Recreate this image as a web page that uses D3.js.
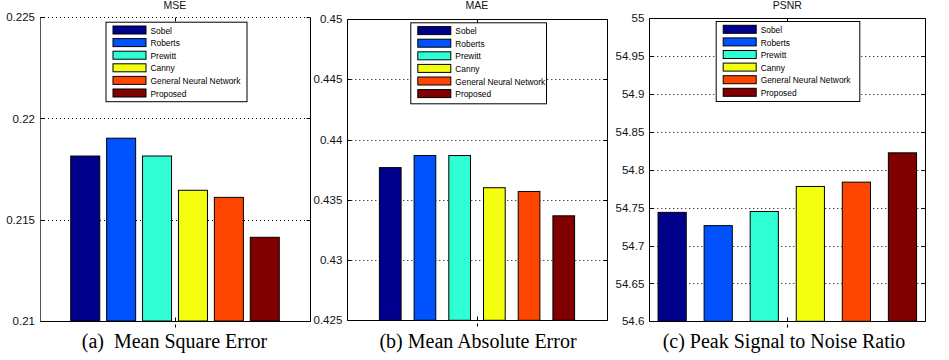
<!DOCTYPE html>
<html>
<head>
<meta charset="utf-8">
<script src="https://cdn.jsdelivr.net/npm/d3@7"></script>
<style>
  html, body { margin: 0; padding: 0; background: #fff; }
  svg { display: block; }
  .caption { white-space: pre; }
</style>
</head>
<body>
<svg id="chart" width="949" height="360"></svg>
<script>
// ---------------- DATA ----------------
const categories = ["Sobel", "Roberts", "Prewitt", "Canny", "General Neural Network", "Proposed"];
const mseValues  = [0.21814, 0.21902, 0.21814, 0.21645, 0.21610, 0.21413];
const maeValues  = [0.43767, 0.43867, 0.43867, 0.43600, 0.43569, 0.43367];
const psnrValues = [54.7438, 54.7263, 54.7450, 54.7780, 54.7837, 54.8224];
const mseTicks  = [0.21, 0.215, 0.22, 0.225];
const maeTicks  = [0.425, 0.43, 0.435, 0.44, 0.445, 0.45];
const psnrTicks = [54.6, 54.65, 54.7, 54.75, 54.8, 54.85, 54.9, 54.95, 55];
const panelTitles = ["MSE", "MAE", "PSNR"];
const captions = ["(a)  Mean Square Error", "(b) Mean Absolute Error", "(c) Peak Signal to Noise Ratio"];
const seriesColors = ["#00008c", "#0052ff", "#30ffd6", "#f4ff10", "#ff4600", "#800000"];

// ---------------- LAYOUT (positions / styles only) ----------------
const panels = [
  { values: mseValues,  ticks: mseTicks,  x0: 40,    x1: 310,   top: 17,   bottom: 321,
    pi: 0.192, po: 0.856, legend: { x: 105.5, y: 21.7, w: 141, h: 79.5 }, dottedTop: true },
  { values: maeValues,  ticks: maeTicks,  x0: 347.3, x1: 606.7, top: 19,   bottom: 320.3,
    pi: 0.375, po: 0.925, legend: { x: 410.3, y: 22.3, w: 135.7, h: 81 } },
  { values: psnrValues, ticks: psnrTicks, x0: 649.3, x1: 925.3, top: 18.3, bottom: 321.3,
    pi: 0.388, po: 0.19,  legend: { x: 715.7, y: 21, w: 143.6, h: 80 } }
];
const captionX = [174.5, 478, 784];

const svg = d3.select("#chart");

panels.forEach((p, pi) => {
  const g = svg.append("g");
  const domain = d3.extent(p.ticks);
  const y = d3.scaleLinear().domain(domain).range([p.bottom, p.top]);
  const x = d3.scaleBand().domain(categories).range([p.x0, p.x1])
    .paddingInner(p.pi).paddingOuter(p.po);
  const color = d3.scaleOrdinal().domain(categories).range(seriesColors);

  // dotted grid lines
  g.append("g").selectAll("line")
    .data(p.ticks.filter(t => t !== domain[0] && (t !== domain[1] || p.dottedTop)))
    .join("line")
    .attr("x1", p.x0).attr("x2", p.x1)
    .attr("y1", d => Math.round(y(d)) + 0.5).attr("y2", d => Math.round(y(d)) + 0.5)
    .attr("stroke", "#000").attr("stroke-width", 1).attr("stroke-dasharray", "1,3");

  // bars
  g.append("g").selectAll("rect")
    .data(p.values)
    .join("rect")
    .attr("x", (d, i) => x(categories[i]))
    .attr("width", x.bandwidth())
    .attr("y", d => y(d))
    .attr("height", d => p.bottom - y(d))
    .attr("fill", (d, i) => color(categories[i]))
    .attr("stroke", "#000").attr("stroke-width", 1);

  // axes box
  const box = g.append("g").attr("fill", "none").attr("stroke", "#000").attr("stroke-width", 1);
  const L = Math.round(p.x0) + 0.5, R = Math.round(p.x1) + 0.5;
  const T = Math.round(p.top) + 0.5, B = Math.round(p.bottom) + 0.5;
  box.append("line").attr("x1", L).attr("x2", L).attr("y1", T).attr("y2", B).attr("stroke", pi === 0 ? "#555" : "#000");
  box.append("line").attr("x1", R).attr("x2", R).attr("y1", T).attr("y2", B);
  box.append("line").attr("x1", L).attr("x2", R).attr("y1", B).attr("y2", B);
  if (!p.dottedTop) box.append("line").attr("x1", L).attr("x2", R).attr("y1", T).attr("y2", T);

  // left axis labels via d3 axis
  const axisL = d3.axisLeft(y).tickValues(p.ticks).tickFormat(d => String(d)).tickSize(0).tickPadding(5);
  const ag = g.append("g").attr("transform", `translate(${p.x0},0)`).call(axisL);
  ag.select(".domain").remove();
  ag.selectAll("text").attr("font-family", "Arial, 'Liberation Sans', sans-serif")
    .attr("font-size", 11.5).attr("fill", "#111");

  // inward ticks left & right
  const tk = g.append("g").attr("stroke", "#000").attr("stroke-width", 1);
  p.ticks.forEach(t => {
    const yy = Math.round(y(t)) + 0.5;
    tk.append("line").attr("x1", L).attr("x2", L + 4).attr("y1", yy).attr("y2", yy);
    tk.append("line").attr("x1", R - 4).attr("x2", R).attr("y1", yy).attr("y2", yy);
  });
  const cx = Math.round((p.x0 + p.x1) / 2) + 0.5;
  tk.append("line").attr("x1", cx).attr("x2", cx).attr("y1", B).attr("y2", B - 4);
  tk.append("line").attr("x1", cx).attr("x2", cx).attr("y1", T).attr("y2", T + 4);
  tk.append("line").attr("x1", cx).attr("x2", cx).attr("y1", B + 3).attr("y2", B + 6);

  // title
  g.append("text").attr("x", (p.x0 + p.x1) / 2).attr("y", 8.5)
    .attr("text-anchor", "middle")
    .attr("font-family", "Arial, 'Liberation Sans', sans-serif").attr("font-size", 10.5)
    .attr("fill", "#111").text(panelTitles[pi]);

  // legend
  const lg = g.append("g").attr("transform", `translate(${p.legend.x},${p.legend.y})`);
  lg.append("rect").attr("x", 0.5).attr("y", 0.5).attr("width", p.legend.w).attr("height", p.legend.h)
    .attr("fill", "#fff").attr("stroke", "#000").attr("stroke-width", 1);
  const rows = lg.selectAll("g.row").data(categories).join("g")
    .attr("class", "row")
    .attr("transform", (d, i) => `translate(7,${3.8 + i * 12.6})`);
  rows.append("rect").attr("x", 0.5).attr("y", 0.5).attr("width", 33).attr("height", 8)
    .attr("fill", d => color(d)).attr("stroke", "#000").attr("stroke-width", 1);
  rows.append("text").attr("x", 38).attr("y", 8.2)
    .attr("font-family", "Arial, 'Liberation Sans', sans-serif").attr("font-size", 8.4)
    .attr("fill", "#000").text(d => d);

  // caption
  svg.append("text").attr("class", "caption").attr("x", captionX[pi]).attr("y", 347.5)
    .attr("text-anchor", "middle")
    .attr("font-family", "'Liberation Serif', 'Times New Roman', serif").attr("font-size", 20)
    .attr("fill", "#000").text(captions[pi]);
});
</script>
</body>
</html>
